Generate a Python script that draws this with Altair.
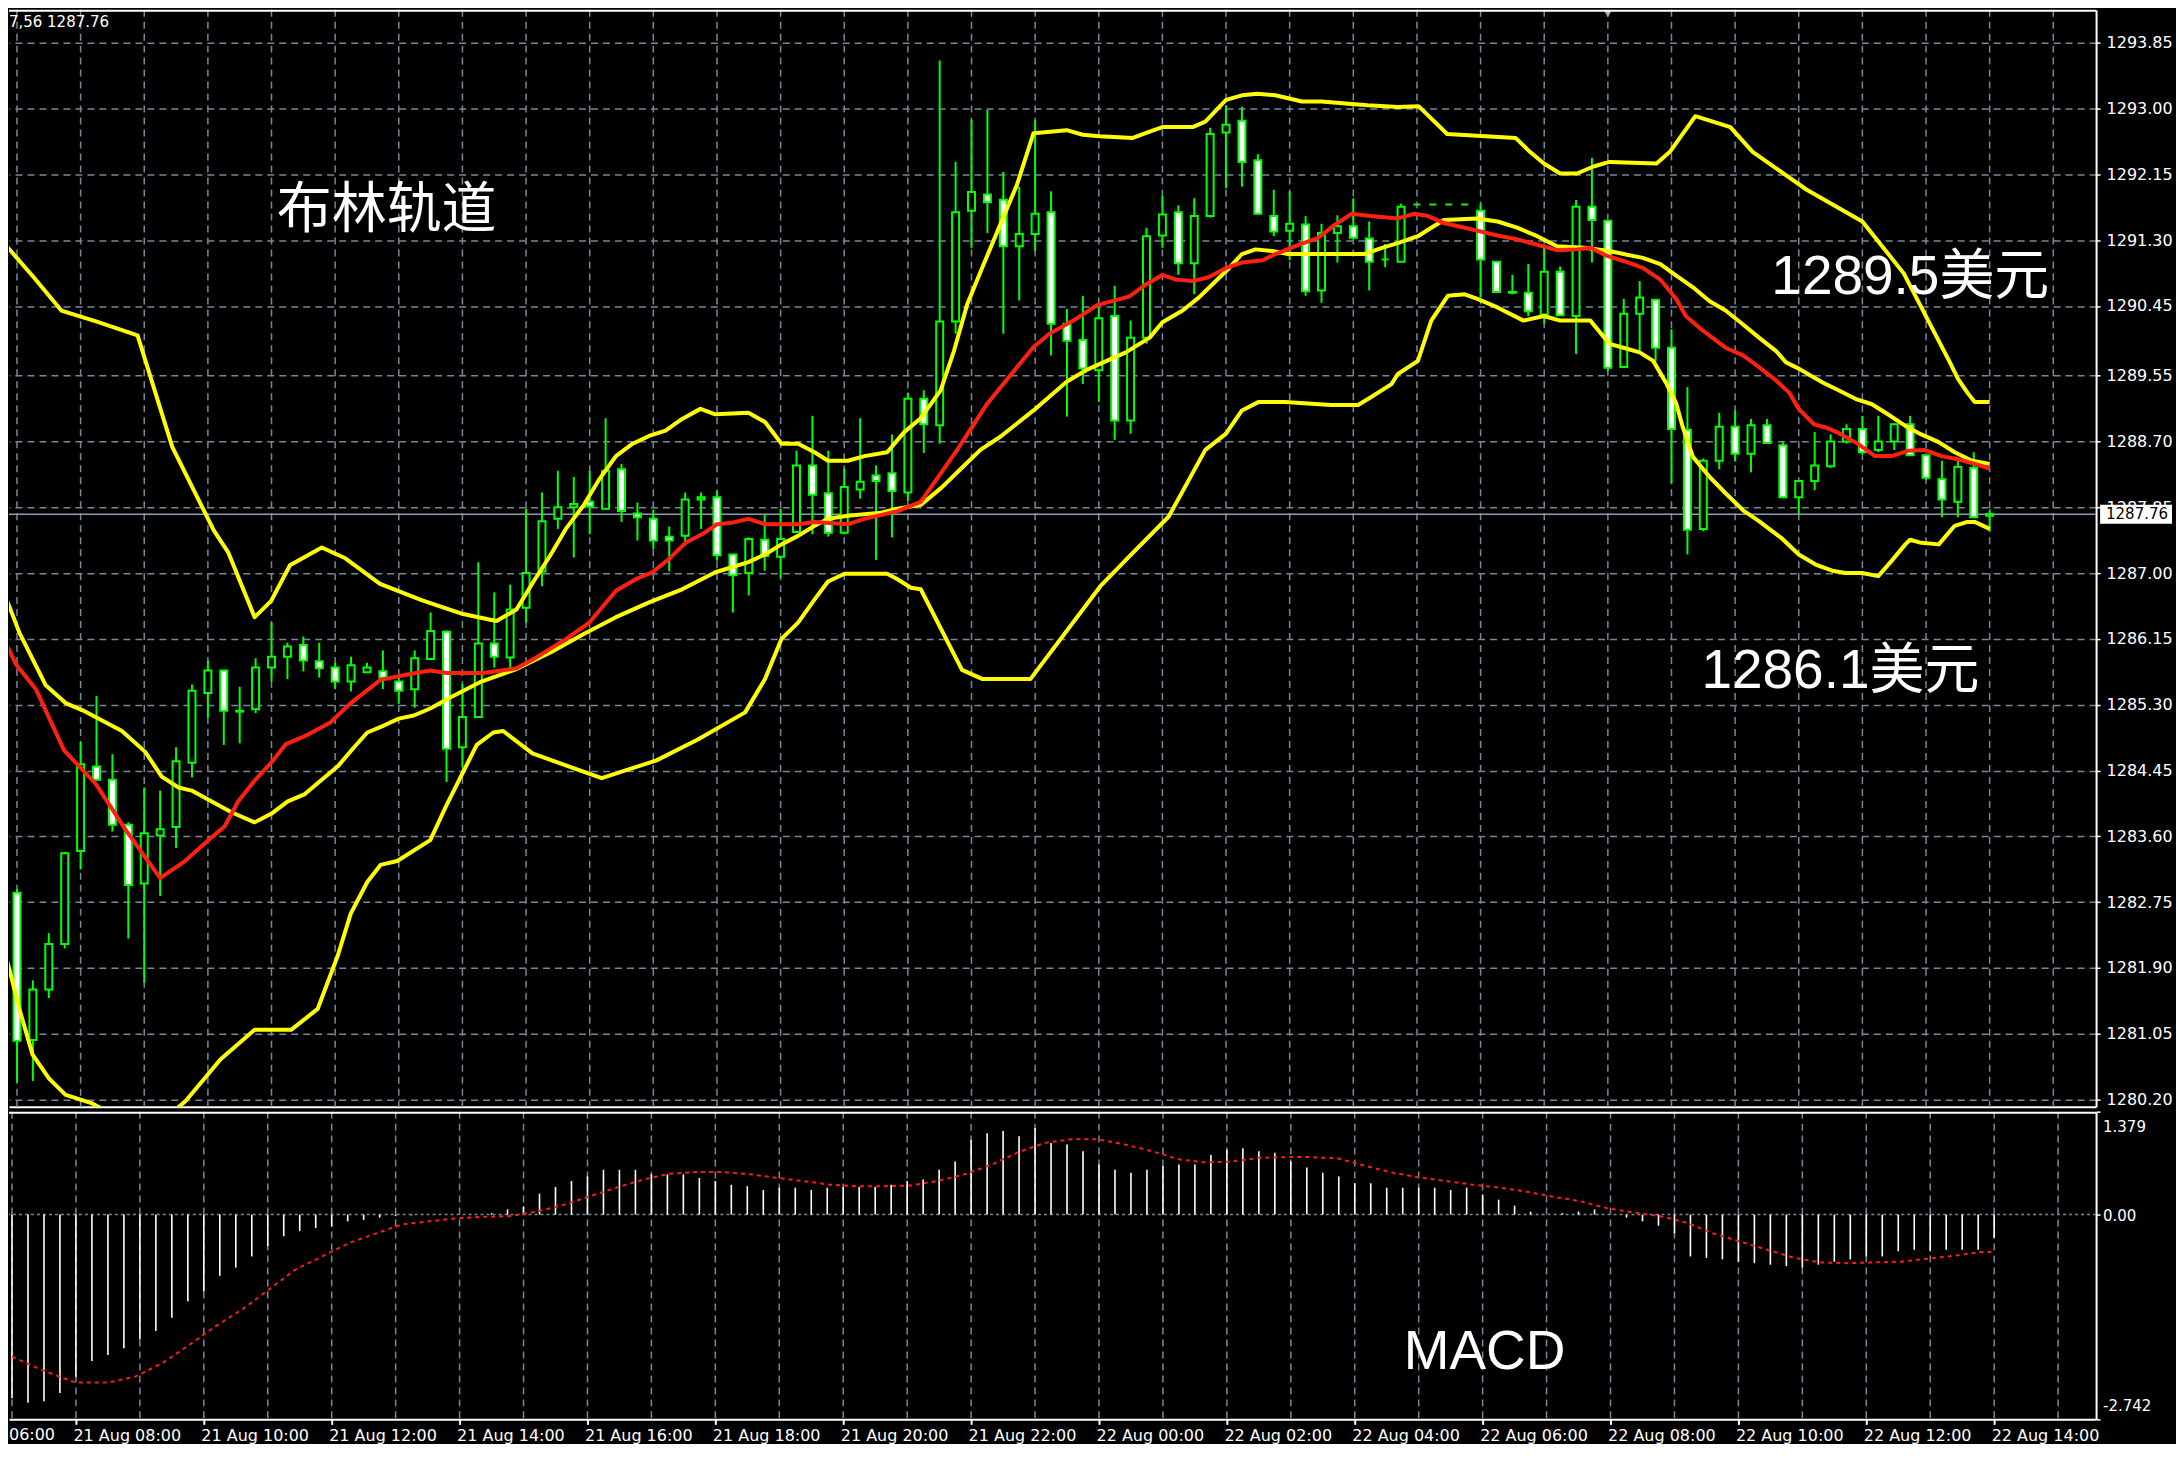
import altair as alt
import pandas as pd

# ---------------- values ----------------
price_ticks = [1293.85, 1293.00, 1292.15, 1291.30, 1290.45, 1289.55, 1288.70, 1287.85,
               1287.00, 1286.15, 1285.30, 1284.45, 1283.60, 1282.75, 1281.90, 1281.05, 1280.20]
time_tick_idx = [4, 12, 20, 28, 36, 44, 52, 60, 68, 76, 84, 92, 100, 108, 116, 124]
time_tick_labels = ["21 Aug 08:00", "21 Aug 10:00", "21 Aug 12:00", "21 Aug 14:00",
                    "21 Aug 16:00", "21 Aug 18:00", "21 Aug 20:00", "21 Aug 22:00",
                    "22 Aug 00:00", "22 Aug 02:00", "22 Aug 04:00", "22 Aug 06:00",
                    "22 Aug 08:00", "22 Aug 10:00", "22 Aug 12:00", "22 Aug 14:00"]
hour_grid_idx = [0, 4, 8, 12, 16, 20, 24, 28, 32, 36, 40, 44, 48, 52, 56, 60, 64, 68, 72, 76,
                 80, 84, 88, 92, 96, 100, 104, 108, 112, 116, 120, 124, 128]

# M15 candles, 21 Aug 07:00 .. 22 Aug 14:00
opens = [1282.87, 1280.97, 1281.62, 1282.21, 1283.41, 1284.50, 1284.33, 1283.75, 1282.99, 1283.61,
         1283.72, 1284.55, 1285.45, 1285.74, 1285.21, 1285.24, 1285.78, 1285.92, 1286.07, 1285.86,
         1285.78, 1285.60, 1285.72, 1285.73, 1285.60, 1285.50, 1285.89, 1286.24, 1284.75, 1285.14,
         1286.09, 1285.91, 1286.55, 1287.02, 1287.70, 1287.85, 1287.92, 1287.83, 1288.34, 1287.77,
         1287.70, 1287.47, 1287.48, 1287.95, 1287.98, 1287.24, 1287.00, 1287.43, 1287.21, 1287.53,
         1288.39, 1288.03, 1287.52, 1288.08, 1288.26, 1288.29, 1288.04, 1289.25, 1288.91, 1290.25,
         1291.68, 1291.89, 1291.82, 1291.22, 1291.38, 1291.66, 1290.22, 1290.01, 1289.62, 1290.32,
         1288.97, 1290.04, 1291.36, 1291.66, 1291.00, 1291.61, 1292.69, 1292.84, 1292.33, 1291.61,
         1291.42, 1291.50, 1290.65, 1291.39, 1291.48, 1291.32, 1291.05, 1291.02, 1291.76, 1291.76,
         1291.76, 1291.76, 1291.68, 1291.02, 1290.63, 1290.62, 1290.34, 1290.89, 1290.32, 1291.73,
         1291.55, 1289.66, 1290.35, 1290.53, 1289.91, 1288.85, 1287.57, 1288.45, 1288.89, 1288.54,
         1288.91, 1288.65, 1287.98, 1288.19, 1288.38, 1288.70, 1288.86, 1288.59, 1288.70, 1288.92,
         1288.52, 1288.21, 1287.92, 1288.36, 1287.74]
highs = [1282.92, 1281.74, 1282.35, 1283.40, 1284.82, 1285.41, 1284.66, 1283.78, 1284.23, 1284.19,
         1284.75, 1285.56, 1285.87, 1285.75, 1285.53, 1285.90, 1286.36, 1286.10, 1286.18, 1286.10,
         1285.84, 1285.92, 1285.84, 1286.00, 1285.68, 1286.00, 1286.49, 1286.26, 1285.57, 1287.14,
         1286.75, 1286.85, 1287.83, 1288.04, 1288.32, 1288.24, 1288.32, 1289.00, 1288.41, 1287.91,
         1287.82, 1287.60, 1288.04, 1288.04, 1288.06, 1287.25, 1287.46, 1287.75, 1287.83, 1288.58,
         1289.03, 1288.58, 1288.35, 1289.00, 1288.39, 1288.79, 1289.33, 1289.36, 1293.62, 1292.31,
         1292.85, 1292.98, 1292.18, 1291.99, 1292.85, 1291.93, 1290.41, 1290.58, 1290.43, 1290.71,
         1290.26, 1291.46, 1291.87, 1291.75, 1291.84, 1292.75, 1293.04, 1293.02, 1292.41, 1291.95,
         1291.93, 1291.61, 1291.51, 1291.62, 1291.84, 1291.54, 1291.25, 1291.77, 1291.76, 1291.76,
         1291.76, 1291.76, 1291.77, 1291.03, 1290.85, 1290.99, 1291.20, 1290.96, 1291.82, 1292.36,
         1291.56, 1290.54, 1290.77, 1290.54, 1290.15, 1289.40, 1288.48, 1289.07, 1289.10, 1288.99,
         1288.99, 1288.69, 1288.20, 1288.82, 1288.79, 1288.92, 1289.03, 1289.03, 1288.93, 1289.03,
         1288.53, 1288.45, 1288.45, 1288.56, 1287.82]
lows = [1280.42, 1280.44, 1281.51, 1282.15, 1283.17, 1284.32, 1283.66, 1282.28, 1281.71, 1282.83,
        1283.45, 1284.36, 1285.13, 1284.78, 1284.80, 1285.19, 1285.60, 1285.63, 1285.73, 1285.65,
        1285.50, 1285.47, 1285.71, 1285.50, 1285.31, 1285.26, 1285.88, 1284.30, 1284.50, 1285.13,
        1285.78, 1285.76, 1286.36, 1286.83, 1287.57, 1287.20, 1287.50, 1287.82, 1287.66, 1287.42,
        1287.31, 1287.02, 1287.35, 1287.57, 1287.16, 1286.49, 1286.71, 1287.03, 1286.94, 1287.52,
        1287.50, 1287.47, 1287.50, 1287.96, 1287.17, 1287.46, 1287.93, 1288.55, 1288.67, 1290.09,
        1291.20, 1291.39, 1290.09, 1290.52, 1291.16, 1289.81, 1289.02, 1289.44, 1289.21, 1288.72,
        1288.80, 1289.96, 1291.20, 1290.85, 1290.60, 1291.59, 1291.97, 1291.99, 1291.63, 1291.35,
        1291.04, 1290.58, 1290.49, 1291.01, 1291.32, 1290.65, 1290.95, 1291.02, 1291.76, 1291.76,
        1291.76, 1291.76, 1290.56, 1290.62, 1290.60, 1290.32, 1290.22, 1290.33, 1289.83, 1291.01,
        1289.61, 1289.66, 1289.87, 1289.74, 1288.16, 1287.24, 1287.54, 1288.34, 1288.44, 1288.30,
        1288.67, 1287.97, 1287.76, 1288.07, 1288.36, 1288.67, 1288.54, 1288.56, 1288.59, 1288.52,
        1288.20, 1287.72, 1287.72, 1287.71, 1287.54]
closes = [1280.96, 1281.62, 1282.21, 1283.38, 1284.53, 1284.33, 1283.75, 1282.97, 1283.64, 1283.69,
          1284.57, 1285.48, 1285.74, 1285.22, 1285.22, 1285.78, 1285.92, 1286.05, 1285.87, 1285.77,
          1285.60, 1285.81, 1285.78, 1285.65, 1285.48, 1285.90, 1286.25, 1284.73, 1285.14, 1286.09,
          1285.92, 1286.53, 1287.00, 1287.67, 1287.85, 1287.89, 1287.86, 1288.32, 1287.80, 1287.72,
          1287.42, 1287.42, 1287.95, 1287.98, 1287.23, 1286.97, 1287.44, 1287.22, 1287.44, 1288.39,
          1288.01, 1287.52, 1288.11, 1288.18, 1288.19, 1288.06, 1289.25, 1288.92, 1290.25, 1291.66,
          1291.92, 1291.79, 1291.22, 1291.38, 1291.64, 1290.22, 1290.00, 1289.64, 1290.29, 1288.97,
          1290.04, 1291.35, 1291.63, 1291.00, 1291.61, 1292.67, 1292.79, 1292.31, 1291.64, 1291.41,
          1291.51, 1290.64, 1291.39, 1291.48, 1291.33, 1291.02, 1291.05, 1291.73, 1291.76, 1291.76,
          1291.76, 1291.76, 1291.05, 1290.63, 1290.62, 1290.38, 1290.89, 1290.33, 1291.73, 1291.56,
          1289.65, 1290.35, 1290.56, 1289.91, 1288.86, 1287.56, 1288.45, 1288.89, 1288.54, 1288.91,
          1288.68, 1287.98, 1288.19, 1288.39, 1288.70, 1288.86, 1288.56, 1288.70, 1288.92, 1288.52,
          1288.23, 1287.95, 1288.37, 1287.72, 1287.76]

# Bollinger upper band (bar index, price)
upper_idx = [-0.69, 1.05, 2.79, 4.97, 7.58, 9.76, 12.37, 13.27, 14.94, 15.98, 17.16, 19.16, 20.64,
             22.82, 25.43, 28.04, 30.14, 31.4, 32.44, 33.5, 34.5, 35.6, 36.6, 37.65, 38.7, 39.73,
             40.77, 41.81, 42.96, 43.9, 45.98, 47.02, 48.06, 49.1, 50.14, 50.98, 52.23, 53.27, 54.7,
             55.77, 56.81, 58.06, 58.9, 59.73, 60.77, 61.81, 62.85, 63.9, 65.98, 67.0, 68.06, 70.14,
             71.2, 72.0, 73.9, 74.7, 76.0, 77.0, 77.96, 79.1, 80.77, 82.0, 83.7, 84.9, 86.8, 88.1,
             89.9, 94.2, 95.1, 95.98, 97.0, 98.06, 99.1, 100.1, 103.06, 103.9, 105.5, 107.7, 109.1,
             110.56, 112.5, 116.0, 118.6, 121.5, 122.0, 122.6, 123.06, 124.0]
upper_val = [1291.23, 1290.82, 1290.39, 1290.25, 1290.07, 1288.63, 1287.55, 1287.27, 1286.43, 1286.64,
             1287.10, 1287.33, 1287.19, 1286.86, 1286.65, 1286.47, 1286.38, 1286.53, 1286.88, 1287.22,
             1287.57, 1287.87, 1288.21, 1288.51, 1288.67, 1288.77, 1288.84, 1288.99, 1289.12, 1289.05,
             1289.07, 1288.95, 1288.67, 1288.67, 1288.56, 1288.45, 1288.45, 1288.51, 1288.56, 1288.82,
             1289.00, 1289.36, 1289.87, 1290.47, 1290.99, 1291.50, 1292.01, 1292.68, 1292.72, 1292.66,
             1292.64, 1292.62, 1292.70, 1292.76, 1292.76, 1292.83, 1293.11, 1293.17, 1293.19, 1293.17,
             1293.09, 1293.09, 1293.06, 1293.04, 1293.02, 1293.03, 1292.67, 1292.62, 1292.44, 1292.29,
             1292.16, 1292.16, 1292.25, 1292.31, 1292.29, 1292.44, 1292.90, 1292.76, 1292.44, 1292.23,
             1291.95, 1291.54, 1290.87, 1289.72, 1289.51, 1289.33, 1289.21, 1289.21]

# Bollinger middle band
middle_idx = [-0.69, 0.15, 1.81, 3.06, 4.1, 6.6, 8.06, 9.1, 10.15, 10.98, 13.48, 14.94, 15.98, 17.02,
              18.06, 19.1, 20.15, 21.19, 22.02, 23.06, 24.0, 24.94, 25.98, 27.02, 28.06, 29.1, 31.4,
              33.5, 35.6, 37.65, 39.73, 41.81, 43.9, 45.98, 47.02, 48.06, 49.1, 50.14, 50.98, 52.23,
              54.31, 55.35, 56.81, 58.1, 59.4, 60.56, 61.81, 63.9, 65.98, 67.2, 68.5, 69.7, 71.2, 72.0,
              73.27, 74.3, 75.15, 76.2, 77.0, 77.85, 78.9, 79.9, 82.6, 84.7, 85.8, 86.8, 88.06, 88.9,
              89.7, 91.8, 93.06, 94.3, 95.56, 96.8, 98.5, 100.1, 101.2, 102.2, 103.3, 104.3, 105.35,
              106.4, 107.4, 108.5, 109.5, 110.56, 111.2, 112.0, 113.5, 114.5, 115.56, 116.6, 117.6,
              118.7, 119.7, 120.8, 121.8, 122.9, 124.0]
middle_val = [1286.68, 1286.23, 1285.55, 1285.32, 1285.23, 1284.96, 1284.69, 1284.37, 1284.23, 1284.19,
              1283.91, 1283.78, 1283.89, 1284.05, 1284.14, 1284.32, 1284.50, 1284.75, 1284.94, 1285.03,
              1285.12, 1285.16, 1285.25, 1285.37, 1285.48, 1285.59, 1285.76, 1285.97, 1286.21, 1286.43,
              1286.62, 1286.79, 1287.01, 1287.14, 1287.24, 1287.37, 1287.48, 1287.61, 1287.70, 1287.74,
              1287.78, 1287.83, 1287.88, 1288.10, 1288.36, 1288.59, 1288.76, 1289.10, 1289.47, 1289.62,
              1289.74, 1289.85, 1290.04, 1290.24, 1290.39, 1290.56, 1290.73, 1290.94, 1291.12, 1291.18,
              1291.16, 1291.12, 1291.12, 1291.12, 1291.20, 1291.26, 1291.35, 1291.46, 1291.56, 1291.58,
              1291.54, 1291.46, 1291.35, 1291.22, 1291.20, 1291.16, 1291.11, 1291.07, 1290.99, 1290.84,
              1290.69, 1290.51, 1290.39, 1290.21, 1290.04, 1289.87, 1289.72, 1289.64, 1289.46, 1289.36,
              1289.25, 1289.18, 1289.05, 1288.90, 1288.79, 1288.69, 1288.56, 1288.45, 1288.41]

# Bollinger lower band
lower_idx = [-0.69, 0.15, 0.98, 2.02, 3.06, 4.73, 6.5, 9.0, 10.6, 12.8, 14.94, 17.23, 18.9, 20.15,
             20.98, 22.02, 22.85, 23.9, 25.98, 27.02, 28.9, 29.94, 30.56, 32.4, 36.75, 40.2, 42.8,
             45.77, 47.02, 48.06, 49.1, 50.14, 50.98, 52.02, 54.7, 55.35, 56.19, 56.81, 59.4, 60.7,
             63.7, 68.1, 69.8, 72.4, 74.7, 76.0, 77.0, 78.06, 79.7, 82.6, 84.3, 85.1, 86.4, 86.8,
             88.06, 88.9, 89.94, 91.0, 91.8, 93.06, 94.7, 95.98, 97.0, 98.9, 100.1, 100.98, 102.0,
             102.85, 103.7, 104.3, 104.7, 105.35, 106.4, 107.4, 108.5, 109.5, 110.14, 110.98, 112.0,
             113.06, 114.1, 114.94, 115.98, 117.0, 117.85, 118.7, 119.0, 119.7, 120.8, 121.8, 122.6,
             123.06, 124.0]
lower_val = [1282.05, 1281.37, 1280.78, 1280.47, 1280.26, 1280.15, 1279.95, 1279.90, 1280.18, 1280.72,
             1281.10, 1281.10, 1281.37, 1282.05, 1282.60, 1283.01, 1283.23, 1283.28, 1283.55, 1284.01,
             1284.78, 1284.94, 1284.96, 1284.67, 1284.35, 1284.58, 1284.85, 1285.20, 1285.63, 1286.15,
             1286.36, 1286.66, 1286.89, 1286.99, 1286.99, 1286.92, 1286.81, 1286.79, 1285.75, 1285.63,
             1285.63, 1286.83, 1287.19, 1287.73, 1288.59, 1288.80, 1289.10, 1289.21, 1289.21, 1289.17,
             1289.17, 1289.27, 1289.44, 1289.57, 1289.74, 1290.26, 1290.58, 1290.60, 1290.54, 1290.43,
             1290.26, 1290.32, 1290.26, 1290.26, 1289.96, 1289.91, 1289.85, 1289.74, 1289.44, 1289.19,
             1288.89, 1288.50, 1288.24, 1288.03, 1287.81, 1287.67, 1287.57, 1287.44, 1287.24, 1287.11,
             1287.03, 1287.00, 1287.00, 1286.96, 1287.16, 1287.37, 1287.43, 1287.39, 1287.37, 1287.61,
             1287.66, 1287.66, 1287.57]

# red moving average
ma_idx = [-0.69, -0.06, 1.19, 2.96, 4.94, 6.81, 9.0, 10.56, 11.81, 13.06, 13.9, 14.94, 15.98, 16.9,
          18.06, 19.7, 20.98, 22.85, 24.3, 25.98, 27.0, 29.31, 31.4, 32.65, 34.52, 35.98, 37.65, 38.9,
          39.94, 40.98, 42.02, 43.06, 44.0, 44.94, 45.98, 47.02, 49.1, 50.14, 52.23, 53.27, 55.35,
          56.81, 59.1, 61.0, 63.9, 64.9, 66.4, 67.9, 69.9, 71.0, 72.0, 72.85, 73.9, 74.9, 76.0, 77.0,
          78.3, 79.1, 80.6, 81.8, 82.85, 83.9, 85.1, 86.8, 87.85, 88.7, 89.7, 91.0, 91.8, 93.06, 94.3,
          95.56, 96.8, 98.06, 98.9, 99.9, 100.98, 102.2, 103.3, 104.3, 104.9, 105.98, 107.4, 108.5,
          109.5, 110.56, 111.4, 112.0, 112.96, 113.7, 114.5, 115.56, 116.8, 117.85, 118.9, 119.9,
          120.98, 122.0, 123.06, 124.0]
ma_val = [1286.09, 1285.82, 1285.50, 1284.71, 1284.28, 1283.69, 1283.06, 1283.28, 1283.51, 1283.73,
          1284.05, 1284.32, 1284.55, 1284.79, 1284.89, 1285.07, 1285.32, 1285.62, 1285.68, 1285.74,
          1285.71, 1285.71, 1285.77, 1285.91, 1286.15, 1286.36, 1286.77, 1286.92, 1287.01, 1287.18,
          1287.39, 1287.50, 1287.63, 1287.65, 1287.70, 1287.63, 1287.63, 1287.66, 1287.63, 1287.70,
          1287.80, 1287.92, 1288.59, 1289.19, 1289.92, 1290.09, 1290.26, 1290.46, 1290.57, 1290.73,
          1290.85, 1290.79, 1290.77, 1290.82, 1290.94, 1291.01, 1291.04, 1291.12, 1291.24, 1291.33,
          1291.50, 1291.64, 1291.61, 1291.58, 1291.64, 1291.61, 1291.52, 1291.46, 1291.42, 1291.36,
          1291.31, 1291.24, 1291.17, 1291.18, 1291.20, 1291.10, 1291.03, 1290.94, 1290.79, 1290.54,
          1290.32, 1290.13, 1289.91, 1289.81, 1289.66, 1289.49, 1289.33, 1289.12, 1288.92, 1288.88,
          1288.81, 1288.69, 1288.51, 1288.51, 1288.58, 1288.59, 1288.51, 1288.47, 1288.41, 1288.35]

# MACD histogram (one per candle) and signal line
macd_hist = [-2.46, -2.52, -2.50, -2.39, -2.17, -1.96, -1.88, -1.79, -1.67, -1.56,
             -1.38, -1.16, -1.03, -0.82, -0.71, -0.56, -0.42, -0.29, -0.22, -0.18,
             -0.16, -0.09, -0.07, -0.04, -0.02, -0.01, 0.00, 0.00, 0.00, 0.00,
             0.02, 0.07, 0.11, 0.28, 0.37, 0.45, 0.51, 0.60, 0.60, 0.60,
             0.54, 0.54, 0.54, 0.49, 0.45, 0.40, 0.38, 0.33, 0.36, 0.36,
             0.33, 0.36, 0.37, 0.37, 0.37, 0.40, 0.45, 0.47, 0.60, 0.71,
             1.00, 1.09, 1.12, 1.05, 1.16, 0.96, 0.94, 0.85, 0.67, 0.60,
             0.56, 0.60, 0.65, 0.67, 0.67, 0.80, 0.87, 0.89, 0.85, 0.83,
             0.71, 0.63, 0.56, 0.51, 0.42, 0.42, 0.36, 0.36, 0.36, 0.36,
             0.33, 0.36, 0.27, 0.20, 0.12, 0.04, 0.00, 0.02, 0.04, 0.07,
             0.00, -0.04, -0.09, -0.15, -0.25, -0.56, -0.58, -0.60, -0.63, -0.65,
             -0.67, -0.69, -0.71, -0.67, -0.63, -0.60, -0.56, -0.56, -0.49, -0.47,
             -0.49, -0.47, -0.47, -0.47, -0.31]
signal_idx = [0, 1.84, 4.0, 6.0, 7.7, 9.4, 11.0, 12.7, 14.4, 16.1, 17.7, 19.4, 21.1, 22.8, 24.4,
              26.1, 27.8, 29.5, 31.1, 32.8, 34.5, 36.2, 37.8, 39.5, 41.2, 42.8, 44.5, 46.2, 47.9,
              49.5, 51.2, 52.9, 54.6, 56.2, 57.9, 59.6, 61.3, 62.9, 64.6, 66.3, 67.9, 69.6, 71.3,
              73.0, 74.6, 76.3, 78.0, 79.7, 81.3, 83.0, 84.7, 86.4, 88.0, 89.7, 91.4, 93.1, 94.7,
              96.4, 98.1, 99.7, 101.4, 103.1, 104.8, 106.4, 108.1, 109.8, 111.5, 113.1, 114.8,
              116.5, 118.2, 119.8, 121.5, 123.2, 124.0]
signal_val = [-1.90, -2.08, -2.25, -2.25, -2.17, -1.99, -1.76, -1.50, -1.27, -1.00, -0.74, -0.56,
              -0.38, -0.25, -0.13, -0.09, -0.05, -0.03, -0.02, 0.04, 0.13, 0.25, 0.36, 0.47, 0.55,
              0.57, 0.57, 0.54, 0.49, 0.45, 0.40, 0.38, 0.38, 0.39, 0.45, 0.54, 0.67, 0.83, 0.96,
              1.01, 1.01, 0.94, 0.85, 0.74, 0.70, 0.71, 0.76, 0.77, 0.77, 0.75, 0.65, 0.56, 0.50,
              0.45, 0.40, 0.36, 0.31, 0.24, 0.18, 0.09, 0.03, -0.02, -0.11, -0.25, -0.36, -0.47,
              -0.58, -0.64, -0.65, -0.64, -0.63, -0.59, -0.55, -0.50, -0.50]

current_price = 1287.76
shift_marker_idx = 100
macd_label_values = [1.379, 0.0, -2.742]
macd_label_texts = ["1.379", "0.00", "-2.742"]

# ---------------- layout / style ----------------
W = 2089
H_MAIN = 1098
H_MACD = 308
X_DOMAIN = [-0.1875, 130.375]
Y_DOMAIN = [1280.108, 1294.276]
M_DOMAIN = [-2.742, 1.379]
GRID = "#778899"
DASH = [7, 5]
GREEN = "#00ff00"
YELLOW = "#ffff00"
RED = "#ff2010"
UIFONT = "DejaVu Sans"
BIGFONT = "'Liberation Sans', 'Noto Sans CJK SC', sans-serif"
CJKFONT = "'Noto Sans CJK SC', sans-serif"

xs = alt.Scale(domain=X_DOMAIN, nice=False, zero=False)
ys = alt.Scale(domain=Y_DOMAIN, nice=False, zero=False)
ms = alt.Scale(domain=M_DOMAIN, nice=False, zero=False)

x_axis_main = alt.Axis(orient="bottom", labels=False, ticks=False, grid=False, title=None,
                       domain=True, domainColor="white", domainWidth=2)
y_axis_main = alt.Axis(orient="right", values=price_ticks, format=".2f", title=None,
                       grid=True, gridColor=GRID, gridDash=DASH, gridWidth=1.5,
                       labelColor="white", labelFont=UIFONT, labelFontSize=16, labelPadding=6,
                       tickColor="white", tickSize=4, tickWidth=1.5,
                       domain=True, domainColor="white", domainWidth=2, labelOverlap=False)
label_expr = "[" + ",".join("'%s'" % t for t in time_tick_labels) + "][(datum.value - 4) / 8]"
x_axis_macd = alt.Axis(orient="bottom", values=time_tick_idx, labelExpr=label_expr, title=None,
                       grid=False, labelAlign="left", labelOffset=-3, labelColor="white",
                       labelFont=UIFONT, labelFontSize=16, labelPadding=3, labelBound=False,
                       labelOverlap=False, labelFlush=False, tickColor="white", tickSize=5,
                       tickWidth=2, domain=True, domainColor="white", domainWidth=2)
y_axis_macd = alt.Axis(orient="right", values=macd_label_values, labels=False, title=None,
                       grid=False, tickColor="white", tickSize=4, tickWidth=1.5,
                       domain=True, domainColor="white", domainWidth=2)


def X(field):
    return alt.X(field, scale=xs, axis=x_axis_main)


def Y(field):
    return alt.Y(field, scale=ys, axis=y_axis_main)


candles = pd.DataFrame({"i": list(range(len(opens))), "o": opens, "h": highs,
                        "l": lows, "c": closes})
candles["kind"] = ["up" if c >= o else "down" for o, c in zip(opens, closes)]
hours = pd.DataFrame({"i": hour_grid_idx})

grid_v = alt.Chart(hours).mark_rule(color=GRID, strokeDash=DASH, strokeWidth=1.5).encode(x=X("i:Q"))
price_line = alt.Chart(pd.DataFrame({"p": [current_price]})).mark_rule(
    color="#8d9db0", strokeWidth=1.5).encode(y=Y("p:Q"))
wicks = alt.Chart(candles).mark_rule(color=GREEN, strokeWidth=2).encode(
    x=X("i:Q"), y=Y("l:Q"), y2="h:Q")
bodies = alt.Chart(candles).mark_bar(size=7, stroke=GREEN, strokeWidth=2).encode(
    x=X("i:Q"), y=Y("o:Q"), y2="c:Q",
    fill=alt.Fill("kind:N", scale=alt.Scale(domain=["up", "down"], range=["black", "white"]),
                  legend=None))


def band(idx, val, color):
    df = pd.DataFrame({"i": idx, "v": val})
    return alt.Chart(df).mark_line(color=color, strokeWidth=4, clip=True,
                                   strokeJoin="round").encode(x=X("i:Q"), y=Y("v:Q"))


upper = band(upper_idx, upper_val, YELLOW)
middle = band(middle_idx, middle_val, YELLOW)
lower = band(lower_idx, lower_val, YELLOW)
ma = band(ma_idx, ma_val, RED)


def note(txt, x, y, font, size, align="left", color="white", baseline="middle"):
    return alt.Chart(pd.DataFrame({"t": [txt]})).mark_text(
        align=align, baseline=baseline, font=font, fontSize=size, color=color).encode(
        x=alt.value(x), y=alt.value(y), text="t:N")


top_border = alt.Chart(pd.DataFrame({"a": [0]})).mark_rule(color="white", strokeWidth=2).encode(
    x=alt.value(0), x2=alt.value(W), y=alt.value(1))
marker = alt.Chart(pd.DataFrame({"i": [shift_marker_idx]})).mark_point(
    shape="triangle-down", filled=True, size=70, color="#a3adb8", opacity=1).encode(
    x=X("i:Q"), y=alt.value(4))

price_df = pd.DataFrame({"p": [current_price], "t": ["%.2f" % current_price]})
price_box = alt.Chart(price_df).mark_point(
    shape="M-1,-0.264L1,-0.264L1,0.264L-1,0.264Z", size=72 * 72, filled=True,
    fill="white", stroke="white", strokeWidth=0, opacity=1).encode(
    x=alt.value(W + 40), y=Y("p:Q"))
price_box_text = alt.Chart(price_df).mark_text(
    align="left", baseline="middle", font=UIFONT, fontSize=15, color="black").encode(
    x=alt.value(W + 10), y=Y("p:Q"), text="t:N")

main = alt.layer(
    grid_v, price_line, wicks, bodies, upper, middle, lower, ma, marker, top_border,
    note("7,56 1287.76", 0, 12, UIFONT, 15),
    note("布林轨道", 268, 201, CJKFONT, 55),
    note("1289.5美元", 1764, 268, BIGFONT, 55),
    note("1286.1美元", 1694, 662, BIGFONT, 55),
    price_box, price_box_text,
).properties(width=W, height=H_MAIN)

# ---------------- MACD panel ----------------


def MX(field):
    return alt.X(field, scale=xs, axis=x_axis_macd)


def MY(field):
    return alt.Y(field, scale=ms, axis=y_axis_macd)


hist_df = pd.DataFrame({"i": list(range(len(macd_hist))), "v": macd_hist,
                        "z": [0.0] * len(macd_hist)})
sig_df = pd.DataFrame({"i": signal_idx, "v": signal_val})

m_grid = alt.Chart(hours).mark_rule(color=GRID, strokeDash=DASH, strokeWidth=1.5).encode(x=MX("i:Q"))
m_zero = alt.Chart(pd.DataFrame({"v": [0.0]})).mark_rule(
    color=GRID, strokeDash=[3, 3], strokeWidth=1.5).encode(y=MY("v:Q"))
m_hist = alt.Chart(hist_df).mark_rule(color="white", strokeWidth=1.6).encode(
    x=MX("i:Q"), y=MY("v:Q"), y2="z:Q")
m_signal = alt.Chart(sig_df).mark_line(color="#ff1a1a", strokeWidth=2, strokeDash=[4, 4]).encode(
    x=MX("i:Q"), y=MY("v:Q"))
m_top = alt.Chart(pd.DataFrame({"a": [0]})).mark_rule(color="white", strokeWidth=2).encode(
    x=alt.value(0), x2=alt.value(W), y=alt.value(1))

m_labels = []
for val, txt, dy in zip(macd_label_values, macd_label_texts, [15, 1, -13]):
    m_labels.append(
        alt.Chart(pd.DataFrame({"v": [val], "t": [txt]})).mark_text(
            align="left", baseline="middle", font=UIFONT, fontSize=15, color="white", dy=dy
        ).encode(x=alt.value(W + 7), y=MY("v:Q"), text="t:N"))

macd = alt.layer(
    m_grid, m_zero, m_hist, m_signal, m_top, *m_labels,
    note("MACD", 1396, 241, BIGFONT, 55),
    note("06:00", 0, H_MACD + 8, UIFONT, 16, baseline="top"),
).properties(width=W, height=H_MACD)

chart = alt.vconcat(main, macd, spacing=3).properties(
    padding={"left": 0, "top": 0, "right": 3, "bottom": 0}
).configure(background="black").configure_view(strokeWidth=0)

chart.save("out.html", embed_options={"renderer": "svg", "actions": False})
